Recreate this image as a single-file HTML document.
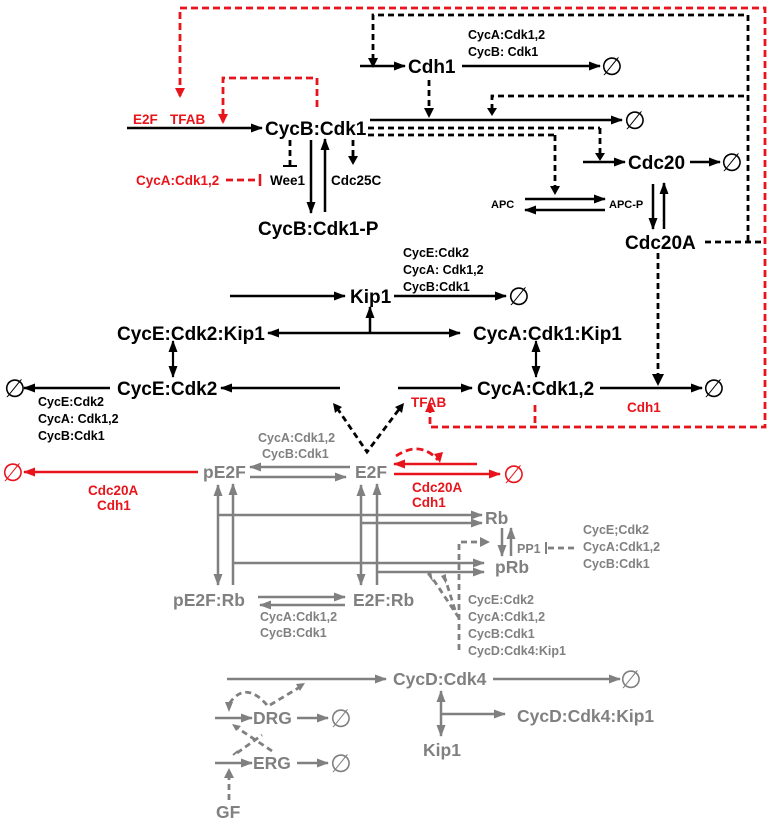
<!DOCTYPE html>
<html><head><meta charset="utf-8"><style>
body{margin:0;background:#fff}
svg{display:block}
text{font-family:"Liberation Sans",Arial,sans-serif;font-weight:bold}
.b{font-size:19px}.g{font-size:17.5px}.s{font-size:12.5px}.r{font-size:13.5px}.w{font-size:13.5px}.xs{font-size:11px}
.e{font-size:25px;font-weight:normal}
</style></head><body>
<svg width="772" height="823" viewBox="0 0 772 823" xmlns="http://www.w3.org/2000/svg">
<defs>
<marker id="ak" markerWidth="12" markerHeight="9" refX="11" refY="4.5" orient="auto" markerUnits="userSpaceOnUse"><path d="M0,0L12,4.5L0,9z" fill="#000"/></marker>
<marker id="ar" markerWidth="12" markerHeight="9" refX="11" refY="4.5" orient="auto" markerUnits="userSpaceOnUse"><path d="M0,0L12,4.5L0,9z" fill="#e8141c"/></marker>
<marker id="ag" markerWidth="12" markerHeight="9" refX="11" refY="4.5" orient="auto" markerUnits="userSpaceOnUse"><path d="M0,0L12,4.5L0,9z" fill="#808080"/></marker>
<marker id="aks" markerWidth="12" markerHeight="9" refX="1" refY="4.5" orient="auto" markerUnits="userSpaceOnUse"><path d="M12,0L0,4.5L12,9z" fill="#000"/></marker>
<marker id="ags" markerWidth="12" markerHeight="9" refX="1" refY="4.5" orient="auto" markerUnits="userSpaceOnUse"><path d="M12,0L0,4.5L12,9z" fill="#808080"/></marker>
</defs>

<g fill="none" stroke="#e8141c" stroke-width="2.8" stroke-dasharray="7,4">
<polyline points="180,96 180,8 765,8 765,427 430,427 430,410" />
<line x1="535" y1="405" x2="535" y2="427"/>
<polyline points="317,107 317,78 223,78 223,122"/>
<line x1="226" y1="180" x2="258" y2="180"/>
<path d="M396,456 Q420,440 438,460"/>
</g>
<g fill="#e8141c">
<path d="M175,88L180,98L185,88z"/><path d="M218,114L223,124L228,114z"/><path d="M425,412L430,402L435,412z"/>
<path d="M434,454L440,463L443,452z"/>
</g>
<line x1="260" y1="174" x2="260" y2="186" stroke="#e8141c" stroke-width="2.5"/>

<g fill="none" stroke="#000" stroke-width="2.8" stroke-dasharray="6,4">
<polyline points="373,60 373,15 748,15 748,242"/>
<polyline points="492,110 492,96 748,96"/>
<line x1="705" y1="242" x2="762" y2="242"/>
<line x1="429" y1="80" x2="429" y2="110"/>
<line x1="368" y1="128" x2="600" y2="128"/>
<line x1="600" y1="128" x2="600" y2="155"/>
<line x1="368" y1="135" x2="555" y2="135"/>
<line x1="555" y1="135" x2="555" y2="188"/>
<line x1="290" y1="140" x2="290" y2="165"/>
<line x1="353" y1="140" x2="353" y2="158"/>
<line x1="658" y1="253" x2="658" y2="375"/>
<polyline points="337,408 367,452 400,408"/>
</g>
<g fill="#000">
<path d="M368,58L373,68L378,58z"/><path d="M487,108L492,116L497,108z"/><path d="M424,108L429,118L434,108z"/>
<path d="M595,153L600,161L605,153z"/><path d="M550,186L555,195L560,186z"/><path d="M348,156L353,165L358,156z"/>
<path d="M652,374L658,386L664,374z"/>
<path d="M333,403L335,413L342,407z"/><path d="M404,403L402,413L395,407z"/>
</g>
<line x1="283" y1="166" x2="297" y2="166" stroke="#000" stroke-width="2"/>

<g stroke="#000" stroke-width="2.5" fill="none" marker-end="url(#ak)">
<line x1="127" y1="128" x2="262" y2="128"/>
<line x1="360" y1="66" x2="405" y2="66"/>
<line x1="462" y1="66" x2="600" y2="66"/>
<line x1="370" y1="120" x2="622" y2="120"/>
<line x1="311" y1="140" x2="311" y2="213"/>
<line x1="325" y1="212" x2="325" y2="139"/>
<line x1="525" y1="199" x2="605" y2="199"/>
<line x1="605" y1="210" x2="525" y2="210"/>
<line x1="583" y1="162" x2="625" y2="162"/>
<line x1="690" y1="162" x2="720" y2="162"/>
<line x1="653" y1="184" x2="653" y2="229"/>
<line x1="664" y1="229" x2="664" y2="183"/>
<line x1="230" y1="296" x2="345" y2="296"/>
<line x1="394" y1="296" x2="506" y2="296"/>
<line x1="370" y1="333" x2="370" y2="307"/>
<line x1="370" y1="333" x2="268" y2="333"/>
<line x1="370" y1="333" x2="460" y2="333"/>
<line x1="340" y1="388" x2="221" y2="388"/>
<line x1="110" y1="388" x2="24" y2="388"/>
<line x1="398" y1="388" x2="472" y2="388"/>
<line x1="600" y1="388" x2="702" y2="388"/>
</g>
<g stroke="#000" stroke-width="2.2" marker-end="url(#ak)" marker-start="url(#aks)">
<line x1="173" y1="341" x2="173" y2="377"/>
<line x1="536" y1="341" x2="536" y2="377"/>
</g>

<g fill="#000">
<text class="b" x="265" y="135">CycB:Cdk1</text>
<text class="b" x="408" y="73">Cdh1</text>
<text class="b" x="258" y="235">CycB:Cdk1-P</text>
<text class="w" x="270" y="185">Wee1</text>
<text class="w" x="331" y="185">Cdc25C</text>
<text class="s" x="468" y="39">CycA:Cdk1,2</text>
<text class="s" x="468" y="56">CycB: Cdk1</text>
<text class="xs" x="491" y="208">APC</text>
<text class="xs" x="609" y="208">APC-P</text>
<text class="b" x="628" y="169">Cdc20</text>
<text class="b" x="625" y="249">Cdc20A</text>
<text class="b" x="350" y="303">Kip1</text>
<text class="s" x="403" y="257">CycE:Cdk2</text>
<text class="s" x="403" y="274">CycA: Cdk1,2</text>
<text class="s" x="403" y="291">CycB:Cdk1</text>
<text class="b" x="117" y="340">CycE:Cdk2:Kip1</text>
<text class="b" x="473" y="340">CycA:Cdk1:Kip1</text>
<text class="b" x="117" y="395">CycE:Cdk2</text>
<text class="b" x="477" y="395">CycA:Cdk1,2</text>
<text class="s" x="38" y="406">CycE:Cdk2</text>
<text class="s" x="38" y="423">CycA: Cdk1,2</text>
<text class="s" x="38" y="440">CycB:Cdk1</text>
<text class="e" x="624" y="129">∅</text>
<text class="e" x="601" y="75">∅</text>
<text class="e" x="721" y="171">∅</text>
<text class="e" x="508" y="305">∅</text>
<text class="e" x="4" y="397">∅</text>
<text class="e" x="703" y="397">∅</text>
</g>
<g fill="#e8141c">
<text class="r" x="133" y="124">E2F</text><text class="r" x="170" y="124">TFAB</text>
<text class="r" x="136" y="185">CycA:Cdk1,2</text>
<text class="r" x="411" y="407">TFAB</text>
<text class="r" x="627" y="412">Cdh1</text>
<text class="r" x="88" y="495">Cdc20A</text><text class="r" x="97" y="510">Cdh1</text>
<text class="r" x="412" y="492">Cdc20A</text><text class="r" x="412" y="507">Cdh1</text>
<text class="e" x="2" y="481">∅</text>
<text class="e" x="503" y="483">∅</text>
</g>
<g stroke="#e8141c" stroke-width="2.5" marker-end="url(#ar)">
<line x1="198" y1="472" x2="24" y2="472"/>
<line x1="477" y1="464" x2="394" y2="464"/>
<line x1="394" y1="474" x2="500" y2="474"/>
</g>

<g stroke="#808080" stroke-width="2.5" fill="none" marker-end="url(#ag)">
<line x1="350" y1="467" x2="250" y2="467"/>
<line x1="250" y1="477" x2="346" y2="477"/>
<line x1="233" y1="585" x2="233" y2="484"/>
<line x1="377" y1="585" x2="377" y2="484"/>
<line x1="218" y1="515" x2="482" y2="515"/>
<line x1="362" y1="523" x2="482" y2="523"/>
<line x1="233" y1="563" x2="484" y2="563"/>
<line x1="377" y1="572" x2="484" y2="572"/>
<line x1="502" y1="528" x2="502" y2="556"/>
<line x1="511" y1="556" x2="511" y2="528"/>
<line x1="258" y1="597" x2="345" y2="597"/>
<line x1="345" y1="605" x2="260" y2="605"/>
<line x1="227" y1="679" x2="386" y2="679"/>
<line x1="493" y1="679" x2="620" y2="679"/>
<line x1="441" y1="714" x2="505" y2="714"/>
<line x1="215" y1="718" x2="252" y2="718"/>
<line x1="297" y1="718" x2="328" y2="718"/>
<line x1="215" y1="763" x2="252" y2="763"/>
<line x1="297" y1="763" x2="328" y2="763"/>
</g>
<g stroke="#808080" stroke-width="2.5" marker-end="url(#ag)" marker-start="url(#ags)">
<line x1="218" y1="485" x2="218" y2="585"/>
<line x1="361" y1="485" x2="361" y2="585"/>
<line x1="441" y1="691" x2="441" y2="736"/>
</g>
<g stroke="#808080" stroke-width="2.8" fill="none" stroke-dasharray="6,4">
<polyline points="459,650 459,542 482,542"/>
<line x1="459" y1="618" x2="433" y2="579"/>
<line x1="455" y1="610" x2="445" y2="578"/>
<line x1="548" y1="548" x2="575" y2="548"/>
<path d="M267,705 Q245,680 229,704"/>
<line x1="270" y1="705" x2="300" y2="687"/>
<line x1="272" y1="751" x2="236" y2="727"/>
<line x1="237" y1="753" x2="262" y2="735"/>
<line x1="229" y1="800" x2="229" y2="775"/>
</g>
<g fill="#808080">
<path d="M480,537L490,542L480,547z"/><path d="M427,574L431,571L433,582z"/><path d="M441,576L446,574L446,584z"/>
<path d="M225,702L229,712L233,702z"/><path d="M296,684L305,683L300,691z"/><path d="M232,724L241,726L236,731z"/>
<path d="M224,778L229,768L234,778z"/>
</g>
<line x1="546" y1="542" x2="546" y2="554" stroke="#808080" stroke-width="2"/>
<line x1="233" y1="755" x2="238" y2="751" stroke="#808080" stroke-width="2"/>
<g fill="#808080">
<text class="g" x="203" y="478">pE2F</text>
<text class="g" x="355" y="478">E2F</text>
<text class="s" x="258" y="442">CycA:Cdk1,2</text>
<text class="s" x="262" y="458">CycB:Cdk1</text>
<text class="g" x="485" y="524">Rb</text>
<text class="g" x="495" y="573">pRb</text>
<text class="s" x="517" y="553">PP1</text>
<text class="s" x="583" y="534">CycE;Cdk2</text>
<text class="s" x="583" y="551">CycA:Cdk1,2</text>
<text class="s" x="583" y="568">CycB:Cdk1</text>
<text class="g" x="173" y="606">pE2F:Rb</text>
<text class="g" x="353" y="606">E2F:Rb</text>
<text class="s" x="260" y="621">CycA:Cdk1,2</text>
<text class="s" x="260" y="637">CycB:Cdk1</text>
<text class="s" x="468" y="604">CycE:Cdk2</text>
<text class="s" x="468" y="621">CycA:Cdk1,2</text>
<text class="s" x="468" y="638">CycB:Cdk1</text>
<text class="s" x="468" y="655">CycD:Cdk4:Kip1</text>
<text class="g" x="393" y="685">CycD:Cdk4</text>
<text class="g" x="517" y="722">CycD:Cdk4:Kip1</text>
<text class="g" x="423" y="756">Kip1</text>
<text class="g" x="253" y="724">DRG</text>
<text class="g" x="253" y="769">ERG</text>
<text class="g" x="216" y="818">GF</text>
<text class="e" x="620" y="688">∅</text>
<text class="e" x="330" y="727">∅</text>
<text class="e" x="330" y="772">∅</text>
</g>
</svg>
</body></html>
